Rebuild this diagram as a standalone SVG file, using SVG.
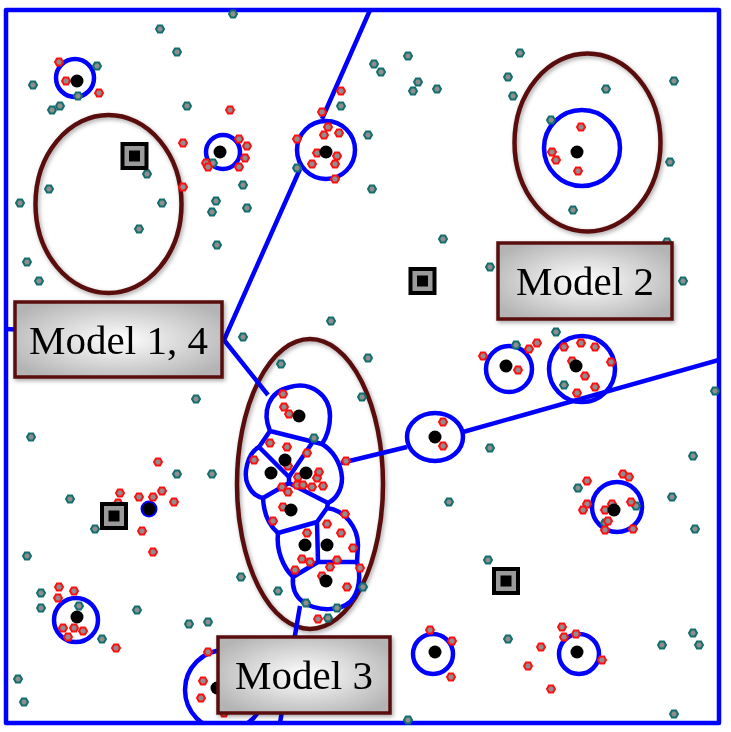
<svg xmlns="http://www.w3.org/2000/svg" xmlns:xlink="http://www.w3.org/1999/xlink" width="731" height="732" viewBox="0 0 731 732">
<defs>
<style>
.bl{fill:none;stroke:#0000ff;stroke-width:4.5;stroke-linejoin:round}
.br{fill:none;stroke:#5a0c0c;stroke-width:4.5}
.dot{fill:#000}
.t{fill:#8e8e8e;stroke:#136e6e;stroke-width:2}
.r{fill:#8e8e8e;stroke:#ff1010;stroke-width:2}
.box{fill:url(#g);stroke:#5a0c0c;stroke-width:3.5}
.lbl{font-family:"Liberation Serif","Times New Roman",serif;font-size:41px;fill:#000;text-anchor:middle}
</style>
<radialGradient id="g" cx="50%" cy="50%" r="60%">
<stop offset="0" stop-color="#ffffff"/>
<stop offset="1" stop-color="#b4b4b4"/>
</radialGradient>
<filter id="sh" x="-20%" y="-20%" width="140%" height="140%">
<feDropShadow dx="1.5" dy="2" stdDeviation="2" flood-color="#000" flood-opacity="0.35"/>
</filter>
<clipPath id="fr"><rect x="6" y="10" width="713" height="713"/></clipPath>
<polygon id="hx" points="4,0 2,3.45 -2,3.45 -4,0 -2,-3.45 2,-3.45"/>
<g id="sq">
<rect x="-14" y="-14" width="28" height="28" fill="#000"/>
<rect x="-10" y="-10" width="20" height="20" fill="#9a9a9a"/>
<rect x="-5.5" y="-5.5" width="11" height="11" fill="#000"/>
</g>
</defs>
<rect width="731" height="732" fill="#fff"/>

<g id="regions" filter="url(#sh)">
<ellipse class="br" cx="108.5" cy="204" rx="73" ry="89"/>
<ellipse class="br" cx="587.5" cy="142.5" rx="73" ry="89"/>
<ellipse class="br" cx="310" cy="484" rx="73" ry="145"/>
</g>

<g id="connectors">
<rect class="bl" x="6" y="10" width="713" height="713"/>
<g clip-path="url(#fr)">
<path class="bl" d="M370,10 L322,119 M300,169 L224,340 L6,329 M224,340 L268,395 M341,463 L407,447 M463,432 L719,360 M300,606 L280,723"/>
<circle class="bl" cx="75" cy="78" r="19"/>
<circle class="bl" cx="223" cy="152" r="17"/>
<circle class="bl" cx="326" cy="150" r="29"/>
<circle class="bl" cx="582" cy="148" r="38"/>
<circle class="bl" cx="509" cy="369" r="23"/>
<circle class="bl" cx="582" cy="369" r="33"/>
<ellipse class="bl" cx="435" cy="437" rx="28" ry="24"/>
<circle class="bl" cx="617" cy="507" r="25"/>
<circle class="bl" cx="579" cy="654" r="20"/>
<circle class="bl" cx="433" cy="654" r="20"/>
<circle class="bl" cx="76" cy="620" r="22"/>
<circle class="bl" cx="225" cy="690" r="40"/>
<path class="bl" d="M270,431 C262,412 268,392 290,387 C312,381 330,396 330,416 C330,430 326,438 322,444 Z"/>
<path class="bl" d="M270,431 L259,447 M312,443 L289,477 L259,447"/>
<path class="bl" d="M259,447 C247,453 243,475 248,485 C252,494 258,497 263,498 L289,483 L289,477"/>
<path class="bl" d="M322,444 C332,450 341,462 342,478 C342,490 336,499 328,503 L289,483"/>
<path class="bl" d="M263,498 Q264,521 278,533 L317,522 L327,508 L328,503 M317,522 L318,562"/>
<path class="bl" d="M278,533 C276,550 283,567 293,577 L318,562 L357,562 C361,575 360,592 350,602 C340,611 318,612 303,602 C295,596 292,587 293,577"/>
<path class="bl" d="M327,508 C345,510 358,528 358,545 L357,562"/>
</g>
<circle cx="149" cy="509" r="7.5" fill="#000" stroke="#0000ff" stroke-width="2"/>
</g>

<g id="noise">
<use href="#hx" class="t" x="233" y="14"/><use href="#hx" class="t" x="160" y="29"/><use href="#hx" class="t" x="177" y="52"/><use href="#hx" class="t" x="97" y="66"/><use href="#hx" class="t" x="33" y="85"/><use href="#hx" class="t" x="78" y="96"/><use href="#hx" class="t" x="60" y="106"/><use href="#hx" class="t" x="52" y="110"/><use href="#hx" class="t" x="187" y="106"/><use href="#hx" class="t" x="147" y="174"/><use href="#hx" class="t" x="49" y="189"/><use href="#hx" class="t" x="20" y="203"/><use href="#hx" class="t" x="162" y="203"/><use href="#hx" class="t" x="139" y="229"/><use href="#hx" class="t" x="243" y="185"/><use href="#hx" class="t" x="216" y="201"/><use href="#hx" class="t" x="212" y="212"/><use href="#hx" class="t" x="247" y="208"/><use href="#hx" class="t" x="217" y="245"/><use href="#hx" class="t" x="213" y="163"/>
<use href="#hx" class="t" x="408" y="56"/><use href="#hx" class="t" x="374" y="64"/><use href="#hx" class="t" x="381" y="72"/><use href="#hx" class="t" x="418" y="82"/><use href="#hx" class="t" x="413" y="91"/><use href="#hx" class="t" x="437" y="89"/><use href="#hx" class="t" x="341" y="106"/><use href="#hx" class="t" x="368" y="135"/><use href="#hx" class="t" x="297" y="168"/><use href="#hx" class="t" x="372" y="189"/><use href="#hx" class="t" x="443" y="239"/>
<use href="#hx" class="t" x="520" y="53"/><use href="#hx" class="t" x="508" y="77"/><use href="#hx" class="t" x="513" y="96"/><use href="#hx" class="t" x="606" y="89"/><use href="#hx" class="t" x="674" y="81"/><use href="#hx" class="t" x="551" y="120"/><use href="#hx" class="t" x="670" y="162"/><use href="#hx" class="t" x="573" y="210"/><use href="#hx" class="t" x="667" y="242"/>
<use href="#hx" class="t" x="27" y="262"/><use href="#hx" class="t" x="39" y="281"/><use href="#hx" class="t" x="243" y="337"/><use href="#hx" class="t" x="196" y="399"/><use href="#hx" class="t" x="31" y="437"/><use href="#hx" class="t" x="177" y="474"/><use href="#hx" class="t" x="212" y="474"/>
<use href="#hx" class="t" x="490" y="267"/><use href="#hx" class="t" x="331" y="321"/><use href="#hx" class="t" x="368" y="358"/><use href="#hx" class="t" x="281" y="364"/><use href="#hx" class="t" x="362" y="397"/><use href="#hx" class="t" x="314" y="438"/><use href="#hx" class="t" x="490" y="448"/>
<use href="#hx" class="t" x="683" y="281"/><use href="#hx" class="t" x="556" y="332"/><use href="#hx" class="t" x="516" y="345"/><use href="#hx" class="t" x="564" y="385"/><use href="#hx" class="t" x="715" y="391"/><use href="#hx" class="t" x="693" y="456"/><use href="#hx" class="t" x="578" y="488"/>
<use href="#hx" class="t" x="449" y="502"/><use href="#hx" class="t" x="488" y="560"/><use href="#hx" class="t" x="241" y="577"/><use href="#hx" class="t" x="278" y="591"/><use href="#hx" class="t" x="306" y="603"/><use href="#hx" class="t" x="337" y="608"/><use href="#hx" class="t" x="328" y="618"/><use href="#hx" class="t" x="408" y="720"/><use href="#hx" class="t" x="363" y="587"/>
<use href="#hx" class="t" x="672" y="497"/><use href="#hx" class="t" x="695" y="529"/><use href="#hx" class="t" x="508" y="639"/><use href="#hx" class="t" x="662" y="645"/><use href="#hx" class="t" x="693" y="633"/><use href="#hx" class="t" x="699" y="645"/><use href="#hx" class="t" x="674" y="714"/><use href="#hx" class="t" x="636" y="506"/><use href="#hx" class="t" x="605" y="523"/>
<use href="#hx" class="t" x="70" y="499"/><use href="#hx" class="t" x="95" y="529"/><use href="#hx" class="t" x="27" y="556"/><use href="#hx" class="t" x="41" y="593"/><use href="#hx" class="t" x="41" y="608"/><use href="#hx" class="t" x="79" y="606"/><use href="#hx" class="t" x="137" y="610"/><use href="#hx" class="t" x="102" y="639"/><use href="#hx" class="t" x="189" y="624"/><use href="#hx" class="t" x="208" y="622"/><use href="#hx" class="t" x="18" y="679"/><use href="#hx" class="t" x="24" y="702"/>
</g>

<g id="members">
<use href="#hx" class="r" x="59" y="62"/><use href="#hx" class="r" x="66" y="81"/><use href="#hx" class="r" x="99" y="93"/><use href="#hx" class="r" x="230" y="110"/><use href="#hx" class="r" x="183" y="143"/><use href="#hx" class="r" x="239" y="139"/><use href="#hx" class="r" x="247" y="146"/><use href="#hx" class="r" x="245" y="158"/><use href="#hx" class="r" x="239" y="167"/><use href="#hx" class="r" x="206" y="163"/><use href="#hx" class="r" x="208" y="167"/><use href="#hx" class="r" x="183" y="187"/>
<use href="#hx" class="r" x="341" y="91"/><use href="#hx" class="r" x="322" y="112"/><use href="#hx" class="r" x="328" y="127"/><use href="#hx" class="r" x="324" y="135"/><use href="#hx" class="r" x="339" y="133"/><use href="#hx" class="r" x="297" y="139"/><use href="#hx" class="r" x="317" y="153"/><use href="#hx" class="r" x="337" y="156"/><use href="#hx" class="r" x="312" y="164"/><use href="#hx" class="r" x="335" y="164"/><use href="#hx" class="r" x="335" y="179"/>
<use href="#hx" class="r" x="581" y="127"/><use href="#hx" class="r" x="552" y="152"/><use href="#hx" class="r" x="556" y="160"/><use href="#hx" class="r" x="578" y="171"/>
<use href="#hx" class="r" x="158" y="462"/><use href="#hx" class="r" x="120" y="493"/><use href="#hx" class="r" x="139" y="497"/><use href="#hx" class="r" x="153" y="497"/><use href="#hx" class="r" x="162" y="491"/><use href="#hx" class="r" x="174" y="502"/><use href="#hx" class="r" x="118" y="503"/><use href="#hx" class="r" x="142" y="531"/><use href="#hx" class="r" x="153" y="552"/>
<use href="#hx" class="r" x="283" y="394"/><use href="#hx" class="r" x="284" y="407"/><use href="#hx" class="r" x="289" y="414"/><use href="#hx" class="r" x="270" y="443"/><use href="#hx" class="r" x="287" y="447"/><use href="#hx" class="r" x="307" y="453"/><use href="#hx" class="r" x="254" y="460"/><use href="#hx" class="r" x="288" y="466"/><use href="#hx" class="r" x="282" y="487"/><use href="#hx" class="r" x="288" y="492"/><use href="#hx" class="r" x="298" y="477"/><use href="#hx" class="r" x="297" y="485"/><use href="#hx" class="r" x="303" y="485"/><use href="#hx" class="r" x="312" y="487"/><use href="#hx" class="r" x="317" y="478"/><use href="#hx" class="r" x="319" y="472"/><use href="#hx" class="r" x="323" y="486"/><use href="#hx" class="r" x="346" y="461"/><use href="#hx" class="r" x="483" y="356"/><use href="#hx" class="r" x="443" y="422"/><use href="#hx" class="r" x="443" y="446"/>
<use href="#hx" class="r" x="283" y="507"/><use href="#hx" class="r" x="273" y="521"/><use href="#hx" class="r" x="345" y="514"/><use href="#hx" class="r" x="327" y="524"/><use href="#hx" class="r" x="341" y="533"/><use href="#hx" class="r" x="307" y="533"/><use href="#hx" class="r" x="353" y="548"/><use href="#hx" class="r" x="302" y="559"/><use href="#hx" class="r" x="310" y="562"/><use href="#hx" class="r" x="295" y="570"/><use href="#hx" class="r" x="322" y="576"/><use href="#hx" class="r" x="330" y="567"/><use href="#hx" class="r" x="337" y="560"/><use href="#hx" class="r" x="360" y="568"/><use href="#hx" class="r" x="347" y="587"/><use href="#hx" class="r" x="318" y="619"/>
<use href="#hx" class="r" x="430" y="630"/><use href="#hx" class="r" x="452" y="641"/><use href="#hx" class="r" x="451" y="677"/>
<use href="#hx" class="r" x="537" y="343"/><use href="#hx" class="r" x="529" y="349"/><use href="#hx" class="r" x="518" y="370"/><use href="#hx" class="r" x="564" y="347"/><use href="#hx" class="r" x="581" y="343"/><use href="#hx" class="r" x="595" y="347"/><use href="#hx" class="r" x="572" y="361"/><use href="#hx" class="r" x="611" y="362"/><use href="#hx" class="r" x="585" y="376"/><use href="#hx" class="r" x="595" y="387"/><use href="#hx" class="r" x="577" y="393"/><use href="#hx" class="r" x="587" y="481"/><use href="#hx" class="r" x="623" y="474"/><use href="#hx" class="r" x="629" y="477"/>
<use href="#hx" class="r" x="587" y="504"/><use href="#hx" class="r" x="583" y="510"/><use href="#hx" class="r" x="605" y="510"/><use href="#hx" class="r" x="612" y="504"/><use href="#hx" class="r" x="631" y="502"/><use href="#hx" class="r" x="608" y="521"/><use href="#hx" class="r" x="605" y="530"/><use href="#hx" class="r" x="633" y="529"/><use href="#hx" class="r" x="562" y="627"/><use href="#hx" class="r" x="564" y="637"/><use href="#hx" class="r" x="576" y="634"/><use href="#hx" class="r" x="541" y="647"/><use href="#hx" class="r" x="528" y="666"/><use href="#hx" class="r" x="602" y="660"/><use href="#hx" class="r" x="551" y="689"/>
<use href="#hx" class="r" x="59" y="587"/><use href="#hx" class="r" x="74" y="591"/><use href="#hx" class="r" x="58" y="598"/><use href="#hx" class="r" x="63" y="628"/><use href="#hx" class="r" x="68" y="637"/><use href="#hx" class="r" x="74" y="628"/><use href="#hx" class="r" x="83" y="631"/><use href="#hx" class="r" x="116" y="648"/><use href="#hx" class="r" x="208" y="652"/><use href="#hx" class="r" x="203" y="681"/><use href="#hx" class="r" x="201" y="698"/><use href="#hx" class="r" x="224" y="713"/>
</g>

<g id="centers">
<circle class="dot" cx="77" cy="81" r="6.5"/>
<circle class="dot" cx="220" cy="152" r="6.5"/>
<circle class="dot" cx="326" cy="152" r="6.5"/>
<circle class="dot" cx="577" cy="152" r="6.5"/>
<circle class="dot" cx="506" cy="366" r="6.5"/>
<circle class="dot" cx="576" cy="366" r="6.5"/>
<circle class="dot" cx="435" cy="437" r="6.5"/>
<circle class="dot" cx="614" cy="510" r="6.5"/>
<circle class="dot" cx="577" cy="652" r="6.5"/>
<circle class="dot" cx="435" cy="652" r="6.5"/>
<circle class="dot" cx="77" cy="617" r="6.5"/>
<circle class="dot" cx="217" cy="688" r="6.5"/>
<circle class="dot" cx="299" cy="416" r="6.5"/>
<circle class="dot" cx="285" cy="460" r="6.5"/>
<circle class="dot" cx="271" cy="473" r="6.5"/>
<circle class="dot" cx="306" cy="473" r="6.5"/>
<circle class="dot" cx="291" cy="510" r="6.5"/>
<circle class="dot" cx="305" cy="545" r="6.5"/>
<circle class="dot" cx="327" cy="545" r="6.5"/>
<circle class="dot" cx="326" cy="581" r="6.5"/>
</g>

<g id="squares">
<use href="#sq" x="134.5" y="156"/>
<use href="#sq" x="422.5" y="281"/>
<use href="#sq" x="114" y="516"/>
<use href="#sq" x="506" y="581"/>
</g>

<g id="model14" filter="url(#sh)">
<rect class="box" x="15" y="302" width="207" height="75"/>
<text class="lbl" x="118.5" y="354">Model 1, 4</text>
</g>
<g id="model2" filter="url(#sh)">
<rect class="box" x="498" y="243" width="174" height="76"/>
<text class="lbl" x="585" y="295">Model 2</text>
</g>
<g id="model3" filter="url(#sh)">
<rect class="box" x="218" y="637" width="172" height="76"/>
<text class="lbl" x="304" y="689">Model 3</text>
</g>
</svg>
